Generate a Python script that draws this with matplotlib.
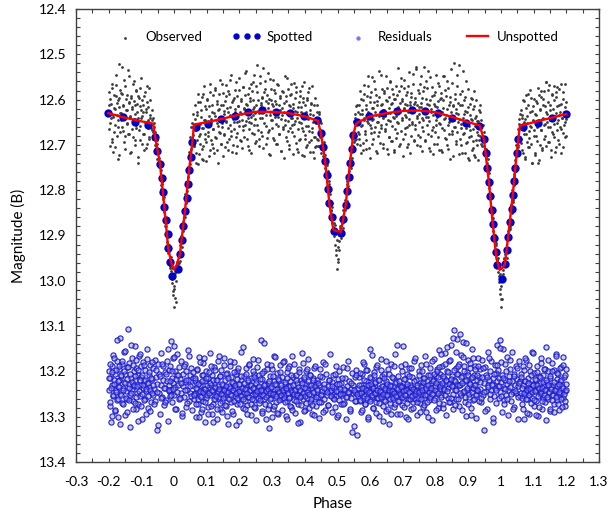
import numpy as np
import matplotlib
matplotlib.use('Agg')
import matplotlib.pyplot as plt
from matplotlib.ticker import MultipleLocator
from matplotlib.lines import Line2D

plt.rcParams['font.family'] = ['Lato', 'DejaVu Sans']

# first set of observations: phases, observed B mag, residuals (offset)
phase = [
    -0.200, -0.198, -0.197, -0.195, -0.193, -0.191, -0.189, -0.188, -0.186, -0.184,
    -0.182, -0.180, -0.178, -0.176, -0.175, -0.173, -0.171, -0.169, -0.167, -0.165,
    -0.164, -0.162, -0.160, -0.158, -0.156, -0.154, -0.152, -0.151, -0.149, -0.147,
    -0.145, -0.143, -0.141, -0.139, -0.137, -0.136, -0.134, -0.132, -0.130, -0.128,
    -0.126, -0.124, -0.122, -0.121, -0.119, -0.117, -0.115, -0.113, -0.111, -0.109,
    -0.107, -0.105, -0.104, -0.102, -0.100, -0.098, -0.096, -0.094, -0.092, -0.090,
    -0.088, -0.086, -0.084, -0.082, -0.080, -0.078, -0.076, -0.073, -0.070, -0.067,
    -0.065, -0.063, -0.061, -0.059, -0.057, -0.055, -0.053, -0.051, -0.049, -0.047,
    -0.045, -0.043, -0.041, -0.039, -0.037, -0.035, -0.033, -0.031, -0.029, -0.027,
    -0.025, -0.023, -0.021, -0.019, -0.017, -0.016, -0.014, -0.012,
    -0.011, -0.009, -0.008, -0.006, -0.005, -0.003, -0.002, 0.000, 0.001, 0.003,
    0.004, 0.006, 0.008, 0.010,
    0.012, 0.014, 0.016, 0.018, 0.020, 0.022, 0.024, 0.026, 0.028, 0.030,
    0.032, 0.034, 0.036, 0.038, 0.040, 0.042, 0.044, 0.046, 0.048, 0.050,
    0.052, 0.054, 0.056, 0.058, 0.060,
    0.061, 0.063, 0.065, 0.067, 0.069, 0.071, 0.073, 0.075, 0.077, 0.078,
    0.080, 0.082, 0.084, 0.086, 0.088, 0.090, 0.092, 0.094, 0.096, 0.097,
    0.099, 0.101, 0.103, 0.105, 0.107, 0.109, 0.111, 0.113, 0.115, 0.116,
    0.118, 0.120, 0.122, 0.124, 0.126, 0.128, 0.130, 0.132, 0.134, 0.135,
    0.137, 0.139, 0.141, 0.143, 0.145, 0.147, 0.149, 0.151, 0.153, 0.154,
    0.156, 0.158, 0.160, 0.162, 0.164, 0.166, 0.168, 0.170, 0.172, 0.173,
    0.175, 0.177, 0.179, 0.181, 0.183, 0.185, 0.187, 0.189, 0.191, 0.192,
    0.194, 0.196, 0.198, 0.200, 0.202, 0.204, 0.206, 0.208, 0.210, 0.211,
    0.213, 0.215, 0.217, 0.219, 0.221, 0.223, 0.225, 0.227, 0.229, 0.230,
    0.232, 0.234, 0.236, 0.238, 0.240, 0.242, 0.244, 0.246, 0.248, 0.249,
    0.251, 0.253, 0.255, 0.257, 0.259, 0.261, 0.263, 0.265, 0.267, 0.268,
    0.270, 0.272, 0.274, 0.276, 0.278, 0.280, 0.282, 0.284, 0.286, 0.287,
    0.289, 0.291, 0.293, 0.295, 0.297, 0.299, 0.301, 0.303, 0.305, 0.307,
    0.309, 0.311, 0.313, 0.315, 0.317, 0.319, 0.321, 0.323, 0.325, 0.327,
    0.329, 0.331, 0.333, 0.335, 0.337, 0.339, 0.341, 0.343, 0.345, 0.347,
    0.349, 0.351, 0.353, 0.355, 0.357, 0.359, 0.361, 0.363, 0.365, 0.367,
    0.369, 0.371, 0.373, 0.375, 0.377, 0.379, 0.381, 0.383, 0.385, 0.387,
    0.389, 0.391, 0.393, 0.395, 0.397, 0.399, 0.401, 0.403, 0.405, 0.407,
    0.409, 0.411, 0.413, 0.415, 0.417, 0.419, 0.421, 0.423, 0.425, 0.427,
    0.429, 0.431, 0.433, 0.435, 0.437,
    0.438, 0.440, 0.442, 0.444, 0.446, 0.448, 0.450, 0.452, 0.454, 0.456,
    0.458, 0.460, 0.462, 0.464, 0.466, 0.468, 0.470, 0.472, 0.474, 0.476,
    0.478, 0.480, 0.482, 0.484, 0.486,
    0.487, 0.489, 0.490, 0.492, 0.494, 0.495, 0.497, 0.499, 0.500, 0.502,
    0.504, 0.506, 0.508, 0.510,
    0.512, 0.514, 0.516, 0.518, 0.520, 0.522, 0.524, 0.526, 0.528, 0.530,
    0.532, 0.534, 0.536, 0.538, 0.540, 0.542, 0.544, 0.546, 0.548, 0.550,
    0.552, 0.554, 0.556, 0.558, 0.560, 0.562, 0.564,
    0.565, 0.567, 0.569, 0.571, 0.573, 0.575, 0.577, 0.579, 0.581, 0.582,
    0.584, 0.586, 0.588, 0.590, 0.592, 0.594, 0.596, 0.598, 0.600, 0.601,
    0.603, 0.605, 0.607, 0.609, 0.611, 0.613, 0.615, 0.617, 0.619, 0.620,
    0.622, 0.624, 0.626, 0.628, 0.630, 0.632, 0.634, 0.636, 0.638, 0.639,
    0.641, 0.643, 0.645, 0.647, 0.649, 0.651, 0.653, 0.655, 0.657, 0.658,
    0.660, 0.662, 0.664, 0.666, 0.668, 0.670, 0.672, 0.674, 0.676, 0.677,
    0.679, 0.681, 0.683, 0.685, 0.687, 0.689, 0.691, 0.693, 0.695, 0.696,
    0.698, 0.700, 0.702, 0.704, 0.706, 0.708, 0.710, 0.712, 0.714, 0.715,
    0.717, 0.719, 0.721, 0.723, 0.725, 0.727, 0.729, 0.731, 0.733, 0.734,
    0.736, 0.738, 0.740, 0.742, 0.744, 0.746, 0.748, 0.750, 0.752, 0.753,
    0.755, 0.757, 0.759, 0.761, 0.763, 0.765, 0.767, 0.769, 0.771, 0.773,
    0.775, 0.777, 0.779, 0.781, 0.783, 0.785, 0.787, 0.789, 0.791, 0.793,
    0.795, 0.797, 0.799, 0.801, 0.803, 0.805, 0.807, 0.809, 0.811, 0.813,
    0.815, 0.817, 0.819, 0.821, 0.823, 0.825, 0.827, 0.829, 0.831, 0.833,
    0.835, 0.837, 0.839, 0.841, 0.843, 0.845, 0.847, 0.849, 0.851, 0.853,
    0.855, 0.857, 0.859, 0.861, 0.863, 0.865, 0.867, 0.869, 0.871, 0.873,
    0.875, 0.877, 0.879, 0.881, 0.883, 0.885, 0.887, 0.889, 0.891, 0.893,
    0.895, 0.897, 0.899, 0.901, 0.903, 0.905, 0.907, 0.909, 0.911, 0.913,
    0.915, 0.917, 0.919, 0.921, 0.923, 0.925, 0.927, 0.929, 0.931, 0.933,
    0.935, 0.937, 0.939, 0.941, 0.943, 0.945, 0.947, 0.949, 0.951, 0.953,
    0.955, 0.957, 0.959, 0.961, 0.963, 0.965, 0.967, 0.969, 0.971, 0.973,
    0.975, 0.977, 0.979, 0.981, 0.983, 0.985, 0.986, 0.987,
    0.988, 0.990, 0.991, 0.993, 0.994, 0.996, 0.997, 0.999, 1.000, 1.002,
    1.004, 1.006, 1.008, 1.010,
    1.011, 1.013, 1.015, 1.017, 1.019, 1.021, 1.023, 1.025, 1.027, 1.029,
    1.031, 1.033, 1.035, 1.037, 1.039, 1.041, 1.043, 1.045, 1.047, 1.049,
    1.051, 1.053, 1.055, 1.057, 1.059,
    1.060, 1.062, 1.064, 1.066, 1.068, 1.070, 1.072, 1.074, 1.076, 1.078,
    1.080, 1.082, 1.084, 1.086, 1.088, 1.090, 1.092, 1.094, 1.096, 1.098,
    1.100, 1.102, 1.104, 1.106, 1.108, 1.110, 1.112, 1.114, 1.116, 1.118,
    1.120, 1.122, 1.124, 1.126, 1.128, 1.130, 1.132, 1.134, 1.136, 1.138,
    1.139, 1.141, 1.143, 1.145, 1.147, 1.149, 1.151, 1.153, 1.155, 1.157,
    1.159, 1.161, 1.163, 1.165, 1.167, 1.169, 1.171, 1.173, 1.175, 1.177,
    1.179, 1.181, 1.183, 1.185, 1.187, 1.189, 1.191, 1.193, 1.195, 1.197,
    1.199, 1.200,
]

obs_mag = [
    12.612, 12.665, 12.598, 12.702, 12.641, 12.575, 12.687, 12.633, 12.716, 12.590,
    12.655, 12.621, 12.568, 12.680, 12.608, 12.731, 12.646, 12.522, 12.597, 12.672,
    12.629, 12.585, 12.527, 12.660, 12.615, 12.694, 12.643, 12.571, 12.708, 12.624,
    12.652, 12.589, 12.676, 12.605, 12.547, 12.638, 12.719, 12.596, 12.664, 12.617,
    12.683, 12.560, 12.642, 12.701, 12.611, 12.579, 12.656, 12.627, 12.739, 12.593,
    12.668, 12.614, 12.690, 12.552, 12.640, 12.602, 12.676, 12.628, 12.712, 12.584,
    12.650, 12.620, 12.697, 12.606, 12.662, 12.575, 12.688, 12.640, 12.655, 12.668,
    12.641, 12.688, 12.652, 12.701, 12.672, 12.719, 12.690, 12.731, 12.712, 12.748,
    12.730, 12.772, 12.755, 12.797, 12.781, 12.820, 12.806, 12.848, 12.832, 12.879,
    12.864, 12.915, 12.896, 12.938, 12.921, 12.955, 12.934, 12.968,
    12.962, 12.985, 12.948, 13.004, 12.971, 13.022, 12.990, 13.057, 13.012, 13.038,
    12.979, 13.001, 12.958, 12.969,
    12.968, 12.939, 12.961, 12.922, 12.944, 12.901, 12.925, 12.871, 12.890, 12.842,
    12.859, 12.808, 12.829, 12.782, 12.801, 12.748, 12.771, 12.715, 12.742, 12.683,
    12.710, 12.651, 12.694, 12.631, 12.702,
    12.702, 12.612, 12.668, 12.741, 12.633, 12.689, 12.587, 12.654, 12.720, 12.606,
    12.677, 12.639, 12.731, 12.594, 12.662, 12.703, 12.571, 12.645, 12.688, 12.620,
    12.736, 12.598, 12.657, 12.681, 12.615, 12.712, 12.566, 12.642, 12.697, 12.628,
    12.664, 12.590, 12.719, 12.637, 12.578, 12.684, 12.651, 12.609, 12.739, 12.623,
    12.671, 12.556, 12.642, 12.698, 12.612, 12.660, 12.585, 12.725, 12.631, 12.676,
    12.604, 12.649, 12.567, 12.693, 12.628, 12.712, 12.588, 12.655, 12.617, 12.681,
    12.545, 12.639, 12.700, 12.602, 12.664, 12.579, 12.627, 12.718, 12.650, 12.593,
    12.673, 12.614, 12.552, 12.647, 12.690, 12.598, 12.631, 12.707, 12.572, 12.659,
    12.621, 12.683, 12.589, 12.648, 12.537, 12.611, 12.702, 12.640, 12.575, 12.666,
    12.604, 12.651, 12.719, 12.580, 12.633, 12.562, 12.677, 12.616, 12.695, 12.642,
    12.571, 12.524, 12.655, 12.601, 12.688, 12.630, 12.548, 12.612, 12.671, 12.594,
    12.640, 12.707, 12.583, 12.621, 12.560, 12.659, 12.603, 12.684, 12.619, 12.541,
    12.667, 12.598, 12.633, 12.722, 12.577, 12.645, 12.609, 12.556, 12.690, 12.624,
    12.586, 12.653, 12.610, 12.699, 12.639, 12.568, 12.675, 12.622, 12.597, 12.714,
    12.634, 12.580, 12.661, 12.607, 12.729, 12.645, 12.591, 12.682, 12.553, 12.627,
    12.670, 12.612, 12.700, 12.589, 12.641, 12.565, 12.657, 12.721, 12.618, 12.680,
    12.596, 12.648, 12.573, 12.709, 12.628, 12.664, 12.606, 12.690, 12.582, 12.651,
    12.616, 12.722, 12.597, 12.670, 12.640, 12.562, 12.688, 12.627, 12.705, 12.601,
    12.659, 12.584, 12.694, 12.631, 12.716, 12.609, 12.671, 12.570, 12.649, 12.728,
    12.612, 12.683, 12.640, 12.702, 12.628,
    12.611, 12.690, 12.632, 12.702, 12.648, 12.719, 12.671, 12.701, 12.680, 12.724,
    12.694, 12.738, 12.722, 12.760, 12.741, 12.779, 12.758, 12.801, 12.779, 12.826,
    12.808, 12.847, 12.829, 12.872, 12.855,
    12.881, 12.902, 12.873, 12.921, 12.897, 12.944, 12.910, 12.975, 12.925, 12.951,
    12.898, 12.932, 12.884, 12.906,
    12.898, 12.869, 12.884, 12.843, 12.861, 12.822, 12.844, 12.801, 12.823, 12.779,
    12.801, 12.758, 12.776, 12.729, 12.750, 12.705, 12.728, 12.680, 12.702, 12.648,
    12.690, 12.632, 12.681, 12.615, 12.697, 12.628, 12.671,
    12.612, 12.688, 12.580, 12.659, 12.719, 12.631, 12.602, 12.695, 12.644, 12.567,
    12.676, 12.621, 12.709, 12.592, 12.651, 12.548, 12.637, 12.728, 12.606, 12.662,
    12.583, 12.645, 12.699, 12.618, 12.559, 12.672, 12.627, 12.590, 12.714, 12.649,
    12.604, 12.680, 12.538, 12.636, 12.695, 12.612, 12.663, 12.576, 12.641, 12.707,
    12.622, 12.585, 12.670, 12.548, 12.653, 12.604, 12.721, 12.630, 12.594, 12.683,
    12.561, 12.647, 12.609, 12.692, 12.577, 12.639, 12.711, 12.598, 12.664, 12.620,
    12.685, 12.589, 12.650, 12.531, 12.628, 12.702, 12.607, 12.571, 12.669, 12.640,
    12.598, 12.724, 12.621, 12.556, 12.676, 12.633, 12.589, 12.660, 12.612, 12.697,
    12.571, 12.642, 12.606, 12.718, 12.585, 12.653, 12.628, 12.543, 12.690, 12.610,
    12.664, 12.596, 12.532, 12.637, 12.701, 12.579, 12.650, 12.617, 12.565, 12.683,
    12.607, 12.714, 12.640, 12.581, 12.669, 12.529, 12.621, 12.692, 12.598, 12.655,
    12.574, 12.638, 12.706, 12.613, 12.550, 12.681, 12.627, 12.593, 12.660, 12.721,
    12.609, 12.672, 12.584, 12.645, 12.617, 12.699, 12.563, 12.632, 12.711, 12.598,
    12.654, 12.586, 12.628, 12.715, 12.602, 12.668, 12.547, 12.640, 12.593, 12.686,
    12.621, 12.708, 12.574, 12.650, 12.606, 12.731, 12.639, 12.563, 12.677, 12.615,
    12.519, 12.660, 12.598, 12.692, 12.629, 12.545, 12.671, 12.607, 12.720, 12.643,
    12.588, 12.654, 12.700, 12.612, 12.537, 12.676, 12.632, 12.719, 12.595, 12.662,
    12.628, 12.694, 12.577, 12.659, 12.733, 12.610, 12.681, 12.642, 12.598, 12.707,
    12.665, 12.615, 12.722, 12.640, 12.690, 12.601, 12.671, 12.734, 12.648, 12.690,
    12.628, 12.681, 12.645, 12.702, 12.657, 12.694, 12.671, 12.715, 12.689, 12.730,
    12.709, 12.752, 12.731, 12.779, 12.763, 12.808, 12.789, 12.836, 12.818, 12.861,
    12.842, 12.889, 12.871, 12.917, 12.899, 12.941, 12.922, 12.955,
    12.958, 12.949, 12.981, 12.967, 13.003, 12.985, 13.029, 13.057, 13.011, 13.040,
    12.992, 12.976, 12.961, 12.949,
    12.941, 12.962, 12.930, 12.949, 12.911, 12.928, 12.889, 12.905, 12.864, 12.882,
    12.832, 12.851, 12.799, 12.822, 12.768, 12.789, 12.733, 12.758, 12.700, 12.722,
    12.665, 12.701, 12.642, 12.689, 12.631,
    12.623, 12.695, 12.641, 12.717, 12.602, 12.668, 12.649, 12.731, 12.590, 12.676,
    12.637, 12.704, 12.612, 12.685, 12.659, 12.578, 12.697, 12.626, 12.740, 12.648,
    12.668, 12.599, 12.722, 12.635, 12.681, 12.607, 12.741, 12.653, 12.589, 12.701,
    12.624, 12.667, 12.581, 12.712, 12.640, 12.598, 12.686, 12.615, 12.654, 12.562,
    12.703, 12.631, 12.579, 12.660, 12.694, 12.612, 12.646, 12.727, 12.588, 12.671,
    12.620, 12.569, 12.683, 12.637, 12.705, 12.594, 12.652, 12.614, 12.690, 12.633,
    12.576, 12.661, 12.610, 12.719, 12.641, 12.583, 12.674, 12.628, 12.566, 12.649,
    12.606, 12.680,
]

res_mag = [
    13.241, 13.198, 13.276, 13.215, 13.312, 13.187, 13.229, 13.254, 13.163, 13.220,
    13.287, 13.206, 13.241, 13.176, 13.264, 13.232, 13.301, 13.195, 13.218, 13.126,
    13.249, 13.211, 13.270, 13.184, 13.236, 13.157, 13.223, 13.297, 13.205, 13.244,
    13.190, 13.262, 13.107, 13.228, 13.181, 13.251, 13.322, 13.214, 13.239, 13.171,
    13.266, 13.200, 13.232, 13.145, 13.219, 13.284, 13.193, 13.247, 13.208, 13.273,
    13.166, 13.230, 13.255, 13.188, 13.213, 13.305, 13.237, 13.179, 13.222, 13.260,
    13.196, 13.243, 13.151, 13.226, 13.281, 13.209, 13.234, 13.186, 13.268, 13.217,
    13.252, 13.193, 13.238, 13.174, 13.266, 13.212, 13.329, 13.227, 13.183, 13.248,
    13.205, 13.293, 13.231, 13.160, 13.257, 13.218, 13.189, 13.274, 13.236, 13.201,
    13.263, 13.222, 13.178, 13.310, 13.244, 13.197, 13.229, 13.255,
    13.187, 13.242, 13.133, 13.214, 13.268, 13.170, 13.226, 13.145, 13.251, 13.199,
    13.235, 13.283, 13.208, 13.162,
    13.229, 13.191, 13.262, 13.216, 13.247, 13.177, 13.298, 13.233, 13.205, 13.256,
    13.184, 13.224, 13.279, 13.198, 13.240, 13.152, 13.218, 13.265, 13.209, 13.247,
    13.193, 13.231, 13.286, 13.214, 13.250,
    13.262, 13.219, 13.247, 13.301, 13.196, 13.238, 13.273, 13.225, 13.168, 13.254,
    13.231, 13.289, 13.207, 13.244, 13.266, 13.182, 13.239, 13.312, 13.221, 13.258,
    13.199, 13.246, 13.278, 13.214, 13.235, 13.160, 13.252, 13.229, 13.295, 13.208,
    13.243, 13.272, 13.190, 13.236, 13.261, 13.218, 13.305, 13.247, 13.177, 13.233,
    13.256, 13.211, 13.284, 13.240, 13.196, 13.265, 13.229, 13.252, 13.171, 13.238,
    13.220, 13.276, 13.245, 13.203, 13.258, 13.316, 13.232, 13.187, 13.249, 13.267,
    13.213, 13.241, 13.293, 13.226, 13.180, 13.254, 13.237, 13.205, 13.271, 13.246,
    13.198, 13.262, 13.228, 13.309, 13.243, 13.219, 13.158, 13.251, 13.234, 13.280,
    13.211, 13.247, 13.266, 13.192, 13.238, 13.274, 13.223, 13.256, 13.185, 13.243,
    13.229, 13.297, 13.214, 13.252, 13.172, 13.236, 13.263, 13.205, 13.245, 13.281,
    13.220, 13.190, 13.249, 13.234, 13.270, 13.207, 13.255, 13.131, 13.239, 13.288,
    13.216, 13.244, 13.199, 13.262, 13.228, 13.306, 13.241, 13.183, 13.253, 13.225,
    13.274, 13.324, 13.236, 13.210, 13.259, 13.195, 13.247, 13.282, 13.222, 13.165,
    13.250, 13.231, 13.268, 13.204, 13.243, 13.293, 13.218, 13.257, 13.186, 13.237,
    13.261, 13.213, 13.245, 13.176, 13.252, 13.227, 13.299, 13.240, 13.202, 13.266,
    13.233, 13.189, 13.256, 13.221, 13.278, 13.242, 13.167, 13.249, 13.212, 13.263,
    13.238, 13.292, 13.207, 13.251, 13.226, 13.271, 13.195, 13.244, 13.311, 13.219,
    13.255, 13.234, 13.181, 13.262, 13.216, 13.247, 13.285, 13.228, 13.200, 13.258,
    13.241, 13.173, 13.229, 13.267, 13.209, 13.253, 13.236, 13.295, 13.214, 13.246,
    13.192, 13.260, 13.225, 13.277, 13.239,
    13.218, 13.256, 13.302, 13.231, 13.194, 13.249, 13.268, 13.213, 13.243, 13.180,
    13.260, 13.227, 13.285, 13.238, 13.205, 13.252, 13.233, 13.274, 13.219, 13.246,
    13.162, 13.241, 13.290, 13.224, 13.258,
    13.207, 13.249, 13.236, 13.279, 13.188, 13.255, 13.228, 13.300, 13.217, 13.244,
    13.263, 13.199, 13.238, 13.271,
    13.226, 13.253, 13.191, 13.247, 13.269, 13.214, 13.240, 13.306, 13.232, 13.256,
    13.178, 13.246, 13.222, 13.287, 13.238, 13.259, 13.203, 13.248, 13.229, 13.321,
    13.245, 13.213, 13.266, 13.197, 13.341, 13.236, 13.254,
    13.247, 13.212, 13.265, 13.231, 13.289, 13.205, 13.243, 13.258, 13.184, 13.236,
    13.271, 13.222, 13.250, 13.196, 13.239, 13.305, 13.229, 13.262, 13.150, 13.244,
    13.215, 13.257, 13.233, 13.280, 13.201, 13.248, 13.226, 13.267, 13.190, 13.241,
    13.259, 13.218, 13.298, 13.237, 13.253, 13.173, 13.245, 13.211, 13.276, 13.232,
    13.206, 13.263, 13.240, 13.222, 13.287, 13.250, 13.195, 13.236, 13.315, 13.246,
    13.229, 13.269, 13.183, 13.242, 13.257, 13.215, 13.248, 13.279, 13.225, 13.161,
    13.253, 13.237, 13.294, 13.210, 13.246, 13.266, 13.229, 13.188, 13.251, 13.233,
    13.274, 13.143, 13.241, 13.259, 13.217, 13.249, 13.301, 13.232, 13.205, 13.262,
    13.236, 13.192, 13.255, 13.229, 13.283, 13.244, 13.213, 13.267, 13.239, 13.176,
    13.248, 13.261, 13.218, 13.297, 13.234, 13.252, 13.200, 13.243, 13.270, 13.226,
    13.185, 13.246, 13.231, 13.278, 13.215, 13.258, 13.165, 13.240, 13.289, 13.222,
    13.251, 13.207, 13.237, 13.264, 13.193, 13.242, 13.226, 13.307, 13.219, 13.249,
    13.172, 13.233, 13.259, 13.211, 13.244, 13.195, 13.281, 13.228, 13.153, 13.238,
    13.206, 13.251, 13.187, 13.229, 13.273, 13.214, 13.242, 13.160, 13.222, 13.296,
    13.199, 13.236, 13.258, 13.178, 13.225, 13.267, 13.141, 13.231, 13.211, 13.284,
    13.218, 13.108, 13.240, 13.193, 13.262, 13.129, 13.227, 13.205, 13.276, 13.183,
    13.231, 13.164, 13.252, 13.210, 13.134, 13.245, 13.189, 13.268, 13.221, 13.299,
    13.202, 13.240, 13.175, 13.226, 13.257, 13.193, 13.281, 13.214, 13.151, 13.236,
    13.263, 13.208, 13.230, 13.187, 13.249, 13.303, 13.220, 13.170, 13.244, 13.213,
    13.195, 13.238, 13.267, 13.212, 13.174, 13.251, 13.329, 13.226, 13.190, 13.244,
    13.207, 13.283, 13.231, 13.158, 13.219, 13.262, 13.199, 13.241, 13.176, 13.228,
    13.312, 13.214, 13.255, 13.186, 13.236, 13.203, 13.270, 13.221,
    13.142, 13.233, 13.197, 13.259, 13.215, 13.131, 13.246, 13.180, 13.224, 13.289,
    13.208, 13.151, 13.237, 13.264,
    13.219, 13.183, 13.252, 13.227, 13.168, 13.241, 13.296, 13.210, 13.235, 13.194,
    13.266, 13.222, 13.157, 13.246, 13.205, 13.278, 13.229, 13.188, 13.248, 13.216,
    13.304, 13.233, 13.176, 13.255, 13.221,
    13.248, 13.206, 13.271, 13.229, 13.188, 13.254, 13.305, 13.221, 13.240, 13.175,
    13.262, 13.214, 13.236, 13.293, 13.199, 13.247, 13.227, 13.158, 13.258, 13.231,
    13.203, 13.276, 13.242, 13.218, 13.265, 13.189, 13.237, 13.299, 13.211, 13.250,
    13.226, 13.170, 13.244, 13.283, 13.208, 13.259, 13.232, 13.195, 13.268, 13.239,
    13.146, 13.224, 13.261, 13.200, 13.245, 13.287, 13.215, 13.234, 13.181, 13.253,
    13.229, 13.272, 13.197, 13.243, 13.162, 13.238, 13.216, 13.264, 13.206, 13.250,
    13.285, 13.222, 13.190, 13.247, 13.233, 13.168, 13.259, 13.212, 13.244, 13.276,
    13.227, 13.194,
]

# second set of observations
phase2 = [
    -0.199, -0.197, -0.195, -0.193, -0.191, -0.189, -0.187, -0.185, -0.183, -0.181,
    -0.179, -0.177, -0.175, -0.173, -0.171, -0.169, -0.167, -0.165, -0.163, -0.161,
    -0.159, -0.157, -0.155, -0.153, -0.151, -0.149, -0.147, -0.145, -0.143, -0.141,
    -0.139, -0.137, -0.135, -0.133, -0.131, -0.129, -0.127, -0.125, -0.123, -0.121,
    -0.119, -0.117, -0.115, -0.113, -0.111, -0.109, -0.107, -0.105, -0.103, -0.101,
    -0.099, -0.097, -0.095, -0.093, -0.091, -0.089, -0.087, -0.085, -0.083, -0.081,
    -0.079, -0.077, -0.075, -0.073, -0.071, -0.069, -0.067,
    -0.064, -0.060, -0.056, -0.052, -0.048, -0.044, -0.040, -0.036, -0.032, -0.028,
    -0.024, -0.020, -0.016, -0.012,
    -0.010, -0.007, -0.004, -0.001, 0.002, 0.005, 0.009,
    0.013, 0.017, 0.021, 0.025, 0.029, 0.033, 0.037, 0.041, 0.045, 0.049,
    0.053, 0.057,
    0.062, 0.064, 0.066, 0.068, 0.070, 0.072, 0.074, 0.076, 0.078, 0.080,
    0.082, 0.084, 0.086, 0.088, 0.090, 0.092, 0.094, 0.096, 0.098, 0.100,
    0.102, 0.104, 0.106, 0.108, 0.110, 0.112, 0.114, 0.116, 0.118, 0.120,
    0.122, 0.124, 0.126, 0.128, 0.130, 0.132, 0.134, 0.136, 0.138, 0.140,
    0.142, 0.144, 0.146, 0.148, 0.150, 0.152, 0.154, 0.156, 0.158, 0.160,
    0.162, 0.164, 0.166, 0.168, 0.170, 0.172, 0.174, 0.176, 0.178, 0.180,
    0.182, 0.184, 0.186, 0.188, 0.190, 0.192, 0.194, 0.196, 0.198, 0.200,
    0.202, 0.204, 0.206, 0.208, 0.210, 0.212, 0.214, 0.216, 0.218, 0.220,
    0.222, 0.224, 0.226, 0.228, 0.230, 0.232, 0.234, 0.236, 0.238, 0.240,
    0.242, 0.244, 0.246, 0.248, 0.250, 0.252, 0.254, 0.256, 0.258, 0.260,
    0.262, 0.264, 0.266, 0.268, 0.270, 0.272, 0.274, 0.276, 0.278, 0.280,
    0.282, 0.284, 0.286, 0.288, 0.290, 0.292, 0.294, 0.296, 0.298, 0.300,
    0.302, 0.304, 0.306, 0.308, 0.310, 0.312, 0.314, 0.316, 0.318, 0.320,
    0.322, 0.324, 0.326, 0.328, 0.330, 0.332, 0.334, 0.336, 0.338, 0.340,
    0.342, 0.344, 0.346, 0.348, 0.350, 0.352, 0.354, 0.356, 0.358, 0.360,
    0.362, 0.364, 0.366, 0.368, 0.370, 0.372, 0.374, 0.376, 0.378, 0.380,
    0.382, 0.384, 0.386, 0.388, 0.390, 0.392, 0.394, 0.396, 0.398, 0.400,
    0.402, 0.404, 0.406, 0.408, 0.410, 0.412, 0.414, 0.416, 0.418, 0.420,
    0.422, 0.424, 0.426, 0.428, 0.430, 0.432, 0.434, 0.436,
    0.439, 0.443, 0.447, 0.451, 0.455, 0.459, 0.463, 0.467, 0.471, 0.475,
    0.479, 0.483,
    0.488, 0.492, 0.496, 0.500, 0.504, 0.508,
    0.513, 0.517, 0.521, 0.525, 0.529, 0.533, 0.537, 0.541, 0.545, 0.549,
    0.553, 0.557, 0.561,
    0.566, 0.568, 0.570, 0.572, 0.574, 0.576, 0.578, 0.580, 0.582, 0.584,
    0.586, 0.588, 0.590, 0.592, 0.594, 0.596, 0.598, 0.600, 0.602, 0.604,
    0.606, 0.608, 0.610, 0.612, 0.614, 0.616, 0.618, 0.620, 0.622, 0.624,
    0.626, 0.628, 0.630, 0.632, 0.634, 0.636, 0.638, 0.640, 0.642, 0.644,
    0.646, 0.648, 0.650, 0.652, 0.654, 0.656, 0.658, 0.660, 0.662, 0.664,
    0.666, 0.668, 0.670, 0.672, 0.674, 0.676, 0.678, 0.680, 0.682, 0.684,
    0.686, 0.688, 0.690, 0.692, 0.694, 0.696, 0.698, 0.700, 0.702, 0.704,
    0.706, 0.708, 0.710, 0.712, 0.714, 0.716, 0.718, 0.720, 0.722, 0.724,
    0.726, 0.728, 0.730, 0.732, 0.734, 0.736, 0.738, 0.740, 0.742, 0.744,
    0.746, 0.748, 0.750, 0.752, 0.754, 0.756, 0.758, 0.760, 0.762, 0.764,
    0.766, 0.768, 0.770, 0.772, 0.774, 0.776, 0.778, 0.780, 0.782, 0.784,
    0.786, 0.788, 0.790, 0.792, 0.794, 0.796, 0.798, 0.800, 0.802, 0.804,
    0.806, 0.808, 0.810, 0.812, 0.814, 0.816, 0.818, 0.820, 0.822, 0.824,
    0.826, 0.828, 0.830, 0.832, 0.834, 0.836, 0.838, 0.840, 0.842, 0.844,
    0.846, 0.848, 0.850, 0.852, 0.854, 0.856, 0.858, 0.860, 0.862, 0.864,
    0.866, 0.868, 0.870, 0.872, 0.874, 0.876, 0.878, 0.880, 0.882, 0.884,
    0.886, 0.888, 0.890, 0.892, 0.894, 0.896, 0.898, 0.900, 0.902, 0.904,
    0.906, 0.908, 0.910, 0.912, 0.914, 0.916, 0.918, 0.920, 0.922, 0.924,
    0.926, 0.928, 0.930, 0.932,
    0.936, 0.940, 0.944, 0.948, 0.952, 0.956, 0.960, 0.964, 0.968, 0.972,
    0.976, 0.980, 0.984,
    0.989, 0.993, 0.997, 1.001, 1.005, 1.009,
    1.012, 1.016, 1.020, 1.024, 1.028, 1.032, 1.036, 1.040, 1.044, 1.048,
    1.052, 1.056,
    1.061, 1.063, 1.065, 1.067, 1.069, 1.071, 1.073, 1.075, 1.077, 1.079,
    1.081, 1.083, 1.085, 1.087, 1.089, 1.091, 1.093, 1.095, 1.097, 1.099,
    1.101, 1.103, 1.105, 1.107, 1.109, 1.111, 1.113, 1.115, 1.117, 1.119,
    1.121, 1.123, 1.125, 1.127, 1.129, 1.131, 1.133, 1.135, 1.137, 1.139,
    1.141, 1.143, 1.145, 1.147, 1.149, 1.151, 1.153, 1.155, 1.157, 1.159,
    1.161, 1.163, 1.165, 1.167, 1.169, 1.171, 1.173, 1.175, 1.177, 1.179,
    1.181, 1.183, 1.185, 1.187, 1.189, 1.191, 1.193, 1.195, 1.197, 1.199,
]

obs_mag2 = [
    12.583, 12.627, 12.651, 12.609, 12.694, 12.566, 12.638, 12.618, 12.672, 12.704,
    12.591, 12.545, 12.633, 12.660, 12.602, 12.617, 12.722, 12.578, 12.645, 12.629,
    12.588, 12.669, 12.612, 12.556, 12.641, 12.681, 12.598, 12.624, 12.653, 12.535,
    12.607, 12.677, 12.636, 12.592, 12.715, 12.620, 12.565, 12.648, 12.603, 12.689,
    12.631, 12.582, 12.662, 12.610, 12.727, 12.640, 12.596, 12.658, 12.574, 12.623,
    12.699, 12.637, 12.612, 12.675, 12.591, 12.649, 12.628, 12.706, 12.569, 12.644,
    12.617, 12.682, 12.633, 12.601, 12.663, 12.646, 12.624,
    12.671, 12.661, 12.703, 12.698, 12.745, 12.739, 12.788, 12.786, 12.815, 12.871,
    12.879, 12.930, 12.929, 12.972,
    12.978, 12.996, 13.031, 13.017, 12.983, 13.046, 12.962,
    12.938, 12.956, 12.905, 12.903, 12.848, 12.842, 12.786, 12.781, 12.722, 12.719,
    12.660, 12.679,
    12.689, 12.643, 12.718, 12.667, 12.628, 12.742, 12.605, 12.681, 12.653, 12.697,
    12.624, 12.709, 12.662, 12.588, 12.733, 12.646, 12.676, 12.615, 12.694, 12.657,
    12.602, 12.671, 12.725, 12.637, 12.584, 12.690, 12.649, 12.613, 12.706, 12.665,
    12.629, 12.574, 12.683, 12.645, 12.712, 12.603, 12.659, 12.621, 12.587, 12.674,
    12.640, 12.698, 12.566, 12.652, 12.611, 12.679, 12.625, 12.704, 12.591, 12.647,
    12.618, 12.662, 12.580, 12.688, 12.633, 12.557, 12.669, 12.606, 12.715, 12.642,
    12.596, 12.650, 12.621, 12.683, 12.561, 12.639, 12.702, 12.614, 12.659, 12.579,
    12.627, 12.692, 12.603, 12.645, 12.572, 12.668, 12.618, 12.541, 12.655, 12.609,
    12.686, 12.632, 12.588, 12.650, 12.711, 12.597, 12.638, 12.566, 12.674, 12.620,
    12.601, 12.655, 12.546, 12.629, 12.691, 12.612, 12.583, 12.667, 12.625, 12.702,
    12.563, 12.641, 12.608, 12.680, 12.596, 12.531, 12.652, 12.619, 12.576, 12.697,
    12.634, 12.589, 12.671, 12.608, 12.720, 12.627, 12.555, 12.646, 12.601, 12.662,
    12.615, 12.685, 12.578, 12.639, 12.603, 12.699, 12.622, 12.566, 12.658, 12.611,
    12.677, 12.593, 12.643, 12.714, 12.619, 12.584, 12.666, 12.627, 12.549, 12.655,
    12.604, 12.691, 12.631, 12.577, 12.648, 12.709, 12.615, 12.662, 12.588, 12.640,
    12.672, 12.609, 12.564, 12.653, 12.625, 12.696, 12.583, 12.641, 12.715, 12.617,
    12.650, 12.592, 12.687, 12.628, 12.571, 12.663, 12.606, 12.724, 12.635, 12.678,
    12.613, 12.658, 12.596, 12.701, 12.642, 12.575, 12.670, 12.624, 12.689, 12.607,
    12.662, 12.715, 12.634, 12.683, 12.596, 12.704, 12.651, 12.687,
    12.702, 12.628, 12.683, 12.651, 12.712, 12.699, 12.752, 12.744, 12.797, 12.786,
    12.843, 12.838,
    12.893, 12.876, 12.931, 12.958, 12.912, 12.879,
    12.872, 12.871, 12.830, 12.834, 12.787, 12.791, 12.739, 12.741, 12.687, 12.693,
    12.641, 12.686, 12.612,
    12.676, 12.632, 12.701, 12.598, 12.655, 12.624, 12.712, 12.587, 12.641, 12.669,
    12.613, 12.690, 12.647, 12.571, 12.628, 12.706, 12.655, 12.594, 12.673, 12.619,
    12.551, 12.642, 12.687, 12.605, 12.660, 12.577, 12.633, 12.719, 12.612, 12.649,
    12.594, 12.671, 12.628, 12.545, 12.656, 12.610, 12.698, 12.623, 12.581, 12.664,
    12.637, 12.602, 12.709, 12.574, 12.646, 12.619, 12.683, 12.560, 12.629, 12.692,
    12.608, 12.658, 12.587, 12.641, 12.716, 12.598, 12.636, 12.569, 12.674, 12.616,
    12.651, 12.582, 12.697, 12.627, 12.552, 12.644, 12.603, 12.688, 12.619, 12.575,
    12.663, 12.609, 12.638, 12.704, 12.584, 12.627, 12.539, 12.656, 12.611, 12.681,
    12.594, 12.649, 12.623, 12.566, 12.692, 12.605, 12.657, 12.528, 12.640, 12.612,
    12.679, 12.585, 12.631, 12.702, 12.548, 12.616, 12.661, 12.597, 12.644, 12.573,
    12.625, 12.690, 12.558, 12.638, 12.609, 12.676, 12.536, 12.648, 12.601, 12.714,
    12.620, 12.572, 12.667, 12.633, 12.589, 12.697, 12.614, 12.656, 12.545, 12.639,
    12.683, 12.604, 12.651, 12.571, 12.627, 12.711, 12.596, 12.662, 12.619, 12.548,
    12.642, 12.685, 12.578, 12.634, 12.701, 12.559, 12.656, 12.613, 12.676, 12.594,
    12.628, 12.533, 12.669, 12.612, 12.724, 12.646, 12.587, 12.661, 12.620, 12.699,
    12.571, 12.650, 12.632, 12.524, 12.688, 12.611, 12.663, 12.582, 12.717, 12.640,
    12.601, 12.674, 12.625, 12.696, 12.559, 12.653, 12.729, 12.617, 12.682, 12.634,
    12.668, 12.597, 12.712, 12.645, 12.620, 12.691, 12.582, 12.659, 12.726, 12.637,
    12.701, 12.648, 12.679, 12.622,
    12.612, 12.698, 12.657, 12.702, 12.691, 12.741, 12.751, 12.796, 12.806, 12.852,
    12.862, 12.911, 12.917,
    12.952, 12.990, 13.018, 13.041, 12.986, 12.951,
    12.966, 12.928, 12.935, 12.887, 12.886, 12.833, 12.826, 12.764, 12.756, 12.700,
    12.705, 12.654,
    12.688, 12.634, 12.712, 12.659, 12.603, 12.676, 12.727, 12.642, 12.619, 12.694,
    12.651, 12.588, 12.670, 12.705, 12.627, 12.661, 12.596, 12.739, 12.645, 12.614,
    12.681, 12.632, 12.718, 12.603, 12.660, 12.692, 12.574, 12.645, 12.733, 12.621,
    12.667, 12.594, 12.643, 12.706, 12.612, 12.656, 12.582, 12.680, 12.628, 12.561,
    12.649, 12.693, 12.606, 12.567, 12.661, 12.624, 12.712, 12.590, 12.638, 12.677,
    12.601, 12.653, 12.716, 12.584, 12.629, 12.668, 12.573, 12.645, 12.612, 12.697,
    12.627, 12.664, 12.566, 12.641, 12.705, 12.598, 12.655, 12.617, 12.682, 12.643,
]

res_mag2 = [
    13.214, 13.268, 13.183, 13.237, 13.299, 13.202, 13.251, 13.170, 13.228, 13.285,
    13.196, 13.245, 13.131, 13.221, 13.262, 13.187, 13.234, 13.316, 13.209, 13.253,
    13.178, 13.240, 13.272, 13.199, 13.226, 13.155, 13.258, 13.217, 13.290, 13.191,
    13.236, 13.263, 13.205, 13.142, 13.247, 13.224, 13.283, 13.186, 13.231, 13.269,
    13.211, 13.174, 13.256, 13.232, 13.309, 13.197, 13.243, 13.220, 13.161, 13.276,
    13.208, 13.249, 13.230, 13.185, 13.264, 13.218, 13.295, 13.239, 13.172, 13.226,
    13.254, 13.201, 13.241, 13.288, 13.214, 13.179, 13.247,
    13.229, 13.272, 13.196, 13.245, 13.318, 13.211, 13.258, 13.184, 13.236, 13.267,
    13.205, 13.150, 13.241, 13.222,
    13.253, 13.199, 13.238, 13.168, 13.282, 13.216, 13.245,
    13.207, 13.259, 13.226, 13.292, 13.188, 13.241, 13.219, 13.270, 13.166, 13.233,
    13.254, 13.201,
    13.251, 13.214, 13.273, 13.236, 13.195, 13.262, 13.228, 13.301, 13.243, 13.180,
    13.257, 13.222, 13.284, 13.209, 13.246, 13.171, 13.238, 13.267, 13.215, 13.253,
    13.230, 13.293, 13.201, 13.248, 13.226, 13.276, 13.189, 13.241, 13.311, 13.218,
    13.262, 13.235, 13.197, 13.255, 13.283, 13.220, 13.244, 13.165, 13.238, 13.269,
    13.211, 13.249, 13.290, 13.227, 13.258, 13.186, 13.242, 13.274, 13.206, 13.233,
    13.299, 13.245, 13.214, 13.261, 13.178, 13.236, 13.252, 13.223, 13.287, 13.240,
    13.202, 13.266, 13.231, 13.248, 13.319, 13.217, 13.259, 13.193, 13.244, 13.228,
    13.271, 13.210, 13.254, 13.237, 13.146, 13.262, 13.225, 13.282, 13.239, 13.205,
    13.248, 13.295, 13.219, 13.257, 13.184, 13.241, 13.272, 13.230, 13.262, 13.199,
    13.236, 13.278, 13.212, 13.250, 13.307, 13.226, 13.243, 13.174, 13.259, 13.233,
    13.217, 13.264, 13.240, 13.291, 13.203, 13.252, 13.137, 13.229, 13.271, 13.244,
    13.256, 13.195, 13.238, 13.283, 13.221, 13.262, 13.247, 13.186, 13.234, 13.300,
    13.210, 13.249, 13.276, 13.227, 13.168, 13.255, 13.239, 13.292, 13.216, 13.245,
    13.263, 13.201, 13.251, 13.230, 13.286, 13.242, 13.179, 13.258, 13.223, 13.268,
    13.236, 13.304, 13.215, 13.247, 13.193, 13.259, 13.232, 13.277, 13.208, 13.246,
    13.285, 13.229, 13.250, 13.183, 13.241, 13.266, 13.219, 13.253, 13.313, 13.235,
    13.202, 13.257, 13.240, 13.274, 13.226, 13.160, 13.248, 13.288, 13.213, 13.255,
    13.237, 13.269, 13.194, 13.245, 13.222, 13.281, 13.250, 13.207, 13.262, 13.231,
    13.274, 13.218, 13.246, 13.297, 13.233, 13.189, 13.256, 13.240,
    13.226, 13.268, 13.211, 13.252, 13.290, 13.237, 13.183, 13.246, 13.274, 13.219,
    13.255, 13.232,
    13.261, 13.205, 13.243, 13.296, 13.228, 13.250,
    13.214, 13.273, 13.238, 13.257, 13.192, 13.246, 13.283, 13.226, 13.333, 13.241,
    13.265, 13.209, 13.250,
    13.229, 13.263, 13.204, 13.248, 13.285, 13.237, 13.179, 13.255, 13.219, 13.272,
    13.241, 13.196, 13.258, 13.231, 13.301, 13.245, 13.213, 13.266, 13.227, 13.164,
    13.252, 13.236, 13.280, 13.209, 13.247, 13.223, 13.291, 13.240, 13.186, 13.259,
    13.218, 13.270, 13.243, 13.197, 13.256, 13.232, 13.310, 13.249, 13.214, 13.265,
    13.237, 13.176, 13.252, 13.228, 13.282, 13.241, 13.205, 13.262, 13.233, 13.295,
    13.244, 13.212, 13.258, 13.189, 13.247, 13.272, 13.224, 13.254, 13.141, 13.238,
    13.266, 13.221, 13.249, 13.293, 13.234, 13.200, 13.257, 13.243, 13.278, 13.216,
    13.251, 13.184, 13.240, 13.269, 13.228, 13.305, 13.246, 13.211, 13.262, 13.235,
    13.193, 13.255, 13.239, 13.281, 13.222, 13.250, 13.170, 13.244, 13.267, 13.230,
    13.258, 13.207, 13.246, 13.289, 13.235, 13.262, 13.198, 13.241, 13.224, 13.274,
    13.214, 13.251, 13.183, 13.237, 13.268, 13.229, 13.300, 13.245, 13.208, 13.256,
    13.236, 13.177, 13.249, 13.221, 13.263, 13.206, 13.241, 13.286, 13.225, 13.198,
    13.247, 13.213, 13.270, 13.190, 13.233, 13.256, 13.162, 13.226, 13.281, 13.211,
    13.239, 13.184, 13.252, 13.219, 13.146, 13.244, 13.201, 13.268, 13.228, 13.175,
    13.258, 13.216, 13.233, 13.127, 13.249, 13.196, 13.274, 13.221, 13.158, 13.240,
    13.205, 13.262, 13.189, 13.231, 13.117, 13.248, 13.212, 13.285, 13.226, 13.169,
    13.243, 13.199, 13.257, 13.220, 13.138, 13.236, 13.271, 13.207, 13.250, 13.182,
    13.228, 13.296, 13.213, 13.245, 13.171, 13.237, 13.262, 13.194, 13.230, 13.253,
    13.208, 13.241, 13.187, 13.266,
    13.224, 13.258, 13.193, 13.246, 13.287, 13.212, 13.235, 13.171, 13.250, 13.229,
    13.303, 13.206, 13.241,
    13.186, 13.232, 13.148, 13.255, 13.214, 13.271,
    13.238, 13.199, 13.262, 13.221, 13.175, 13.249, 13.284, 13.210, 13.243, 13.192,
    13.257, 13.226,
    13.213, 13.259, 13.236, 13.284, 13.197, 13.247, 13.221, 13.170, 13.262, 13.240,
    13.292, 13.225, 13.251, 13.186, 13.238, 13.270, 13.208, 13.246, 13.160, 13.229,
    13.263, 13.216, 13.243, 13.297, 13.230, 13.201, 13.255, 13.237, 13.279, 13.212,
    13.248, 13.182, 13.236, 13.266, 13.223, 13.253, 13.194, 13.241, 13.308, 13.219,
    13.257, 13.230, 13.175, 13.246, 13.282, 13.210, 13.238, 13.263, 13.199, 13.251,
    13.224, 13.289, 13.241, 13.167, 13.256, 13.233, 13.204, 13.272, 13.227, 13.245,
    13.193, 13.260, 13.218, 13.279, 13.236, 13.185, 13.250, 13.266, 13.208, 13.241,
]

# spotted model (blue dots)
sp_phase = [-0.201, -0.157, -0.120, -0.079, -0.058, -0.051, -0.043, -0.038, -0.033, -0.030,
            -0.025, -0.020, -0.018, -0.013, -0.005, 0.011, 0.018, 0.023, 0.028, 0.033,
            0.039, 0.042, 0.046, 0.051, 0.056, 0.067, 0.105, 0.144, 0.186, 0.227,
            0.268, 0.312, 0.355, 0.397, 0.436, 0.449, 0.457, 0.462, 0.467, 0.472,
            0.475, 0.482, 0.490, 0.510, 0.518, 0.525, 0.530, 0.535, 0.538, 0.543,
            0.548, 0.559, 0.596, 0.640, 0.683, 0.727, 0.768, 0.808, 0.849, 0.892,
            0.933, 0.948, 0.954, 0.958, 0.963, 0.966, 0.972, 0.975, 0.979, 0.984,
            0.989, 1.002, 1.012, 1.019, 1.022, 1.028, 1.033, 1.036, 1.039, 1.043,
            1.048, 1.051, 1.068, 1.112, 1.155, 1.198]
sp_mag = [12.630, 12.639, 12.649, 12.656, 12.682, 12.713, 12.742, 12.774, 12.805, 12.836,
          12.866, 12.897, 12.928, 12.958, 12.989, 12.973, 12.941, 12.910, 12.879, 12.847,
          12.818, 12.786, 12.755, 12.726, 12.694, 12.661, 12.654, 12.643, 12.636, 12.628,
          12.624, 12.627, 12.630, 12.636, 12.645, 12.674, 12.705, 12.735, 12.766, 12.798,
          12.829, 12.860, 12.889, 12.894, 12.864, 12.833, 12.802, 12.770, 12.741, 12.710,
          12.678, 12.649, 12.636, 12.630, 12.625, 12.623, 12.625, 12.630, 12.641, 12.651,
          12.658, 12.688, 12.719, 12.750, 12.781, 12.812, 12.844, 12.875, 12.906, 12.936,
          12.965, 12.995, 12.963, 12.932, 12.903, 12.871, 12.841, 12.811, 12.779, 12.750,
          12.719, 12.688, 12.660, 12.651, 12.641, 12.632]

# unspotted model (red line)
un_phase = [-0.201, -0.150, -0.100, -0.064, -0.058, -0.043, -0.030, -0.018, -0.008, 0.000,
            0.008, 0.018, 0.033, 0.046, 0.056, 0.061, 0.100, 0.150, 0.200, 0.250,
            0.300, 0.350, 0.400, 0.440, 0.449, 0.462, 0.475, 0.487, 0.498, 0.510,
            0.525, 0.538, 0.548, 0.556, 0.563, 0.600, 0.650, 0.700, 0.750, 0.800,
            0.850, 0.900, 0.935, 0.948, 0.963, 0.975, 0.986, 0.996, 1.004, 1.012,
            1.022, 1.036, 1.048, 1.058, 1.100, 1.150, 1.200]
un_mag = [12.630, 12.640, 12.648, 12.653, 12.682, 12.742, 12.836, 12.928, 12.962, 12.975,
          12.965, 12.941, 12.847, 12.755, 12.694, 12.655, 12.650, 12.642, 12.633, 12.627,
          12.627, 12.630, 12.637, 12.647, 12.674, 12.735, 12.829, 12.887, 12.890, 12.892,
          12.833, 12.741, 12.678, 12.655, 12.650, 12.637, 12.630, 12.625, 12.624, 12.628,
          12.638, 12.650, 12.657, 12.688, 12.781, 12.875, 12.950, 12.976, 12.972, 12.963,
          12.903, 12.811, 12.719, 12.658, 12.650, 12.641, 12.632]

x_labels = ['-0.3', '-0.2', '-0.1', '0', '0.1', '0.2', '0.3', '0.4', '0.5', '0.6',
            '0.7', '0.8', '0.9', '1', '1.1', '1.2', '1.3']
y_labels = ['12.4', '12.5', '12.6', '12.7', '12.8', '12.9', '13.0', '13.1', '13.2',
            '13.3', '13.4']

obs_col = '#3a3a3a'
spot_col = '#0000cc'
red = '#ff0000'

fig = plt.figure(figsize=(6.09, 5.19), dpi=100)
ax = fig.add_axes([0.1248, 0.1098, 0.8588, 0.8729])

res_kw = dict(s=14, facecolors=(0.55, 0.55, 0.95, 0.45), edgecolors='#1f1fcc',
              linewidths=0.8, zorder=2)
ax.scatter(phase, res_mag, **res_kw)
ax.scatter(phase2, res_mag2, **res_kw)
ax.scatter(phase, obs_mag, s=4, color=obs_col, linewidths=0, zorder=3)
ax.scatter(phase2, obs_mag2, s=4, color=obs_col, linewidths=0, zorder=3)
ax.plot(sp_phase, sp_mag, ls='none', marker='o', ms=6, color=spot_col, mec='none', zorder=4)
ax.plot(un_phase, un_mag, color=red, lw=1.7, zorder=5)

xt = [float(t) for t in x_labels]
yt = [float(t) for t in y_labels]
ax.set_xlim(xt[0], xt[-1])
ax.set_ylim(yt[-1], yt[0])
ax.set_xticks(xt)
ax.set_xticklabels(x_labels)
ax.set_yticks(yt)
ax.set_yticklabels(y_labels)
ax.xaxis.set_minor_locator(MultipleLocator(0.05))
ax.yaxis.set_minor_locator(MultipleLocator(0.02))
ax.tick_params(which='both', direction='in', top=True, right=True,
               length=3, width=0.8, color='#404040', labelsize=10)
ax.tick_params(axis='x', which='major', pad=10)
ax.tick_params(axis='y', which='major', pad=7)
for s in ax.spines.values():
    s.set_color('#404040')
    s.set_linewidth(1.0)

ax.set_xlabel('Phase', fontsize=11)
ax.set_ylabel('Magnitude (B)', fontsize=11)
ax.xaxis.set_label_coords(0.49, -0.078)
ax.yaxis.set_label_coords(-0.095, 0.5)

# legend proxies: single dots for the scatter series, three dots for Spotted
h_obs = ax.scatter([], [], s=4, color=obs_col, linewidths=0)
h_spot = Line2D([], [], ls='none', marker='o', ms=3.6, color=spot_col)
h_res = ax.scatter([], [], s=10, color='#7a7ae6', linewidths=0)
h_red = Line2D([], [], color=red, lw=1.7)
ax.legend([h_obs, h_spot, h_res, h_red], ['Observed', 'Spotted', 'Residuals', 'Unspotted'],
          loc='center', bbox_to_anchor=(0.495, 0.938), ncol=4, frameon=False,
          fontsize=9.5, handlelength=2.2, handletextpad=0.4, columnspacing=2.3,
          numpoints=3, scatterpoints=1)

fig.savefig('out.png', dpi=100)
